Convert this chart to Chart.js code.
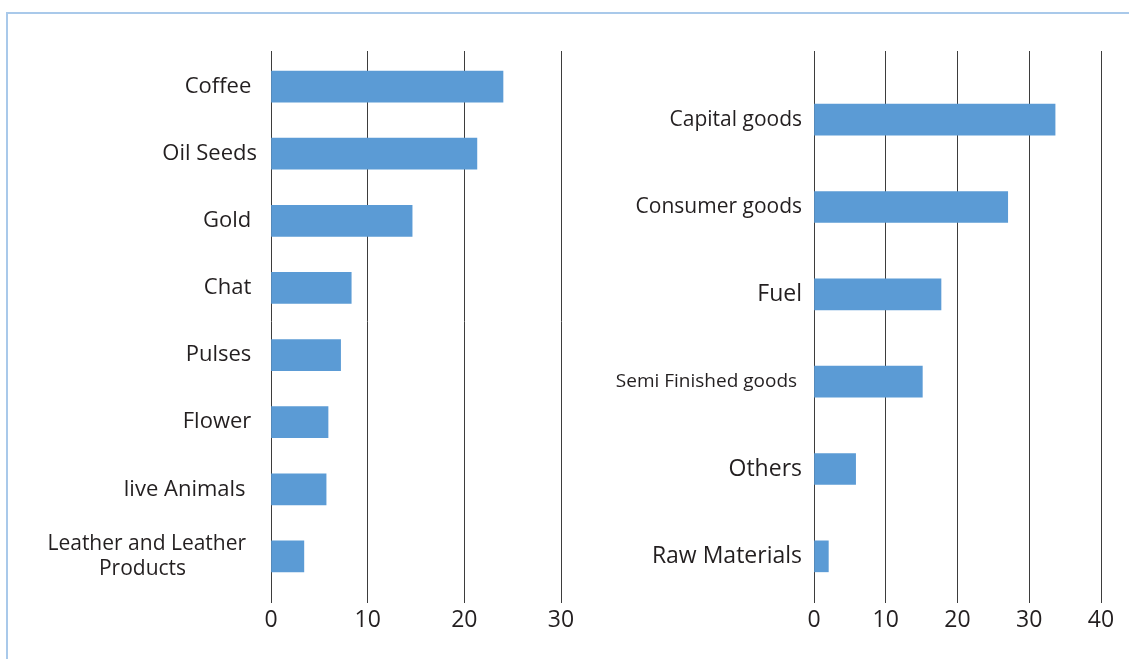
<!DOCTYPE html>
<html>
<head>
<meta charset="utf-8">
<script src="https://cdn.jsdelivr.net/npm/chart.js@4.4.1/dist/chart.umd.min.js"></script>
<style>
    html, body { margin: 0; padding: 0; background: #fff; overflow: hidden; }
    .frame {
        position: absolute; left: 6px; top: 12px; right: -10px; bottom: -10px;
        border-top: 2px solid #a9c9ea; border-left: 2px solid #a9c9ea;
    }
    .panel { position: absolute; top: 0; height: 659px; }
    #wrap-exports { left: 0; width: 600px; }
    #wrap-imports { left: 580px; width: 549px; }
</style>
</head>
<body>
<div class="frame"></div>
<div class="panel" id="wrap-exports"><canvas id="chart-exports"></canvas></div>
<div class="panel" id="wrap-imports"><canvas id="chart-imports"></canvas></div>
<script>
// Export commodities (left panel)
const exportLabels = [
    'Coffee ', 'Oil Seeds', 'Gold ', 'Chat ', 'Pulses ', 'Flower ', 'live Animals  ',
    ['Leather and Leather  ', 'Products             ']
];
const exportValues = [24, 21.3, 14.6, 8.3, 7.2, 5.9, 5.7, 3.4];

// Import groups (right panel)
const importLabels = ['Capital goods', 'Consumer goods', 'Fuel', 'Semi Finished goods ', 'Others', 'Raw Materials'];
const importValues = [33.6, 27, 17.7, 15.1, 5.8, 2.0];

const exportMax = 30;
const importMax = 40;
const tickStep = 10;

const BAR_COLOR = '#5b9bd5';
const GRID_COLOR = '#3d3d3d';
const TEXT_COLOR = '#231f20';
const FONT = "'Open Sans', sans-serif";

function renderBarPanel(canvasId, labels, values, opts) {
    const ctx = document.getElementById(canvasId);
    if (!ctx) return null;

    return new Chart(ctx, {
        type: 'bar',
        data: {
            labels: labels,
            datasets: [{
                data: values,
                backgroundColor: BAR_COLOR,
                barThickness: 31
            }]
        },
        options: {
            indexAxis: 'y',
            responsive: true,
            maintainAspectRatio: false,
            animation: false,
            layout: { padding: opts.padding },
            plugins: {
                legend: { display: false },
                tooltip: { enabled: false }
            },
            scales: {
                y: {
                    grid: { display: false },
                    border: { display: false },
                    afterFit: scale => { scale.width = opts.axisWidth; },
                    ticks: {
                        color: TEXT_COLOR,
                        padding: opts.labelPad,
                        font: c => ({ family: FONT, size: opts.labelSizes[c.index] || 22 })
                    }
                },
                x: {
                    min: 0,
                    max: opts.max,
                    afterFit: scale => { scale.height = opts.xHeight; },
                    border: { display: false },
                    grid: {
                        color: GRID_COLOR,
                        lineWidth: 1,
                        tickLength: opts.bottomExt
                    },
                    ticks: {
                        stepSize: tickStep,
                        color: TEXT_COLOR,
                        padding: 4,
                        font: { family: FONT, size: 23 }
                    }
                },
                // grid lines run a little above the first bar band
                xTop: {
                    position: 'top',
                    min: 0,
                    max: opts.max,
                    border: { display: false },
                    grid: {
                        color: GRID_COLOR,
                        lineWidth: 1,
                        drawOnChartArea: false,
                        tickLength: opts.topExt
                    },
                    ticks: { display: false, stepSize: tickStep }
                }
            }
        }
    });
}

renderBarPanel('chart-exports', exportLabels, exportValues, {
    max: exportMax,
    axisWidth: 271,
    labelPad: 6,
    labelSizes: [22, 22, 22, 22, 22, 22, 22, 21],
    padding: { top: 51, right: 39, bottom: 9, left: 0 },
    xHeight: 60,
    topExt: 2,
    bottomExt: 13
});

renderBarPanel('chart-imports', importLabels, importValues, {
    max: importMax,
    axisWidth: 234,
    labelPad: 4,
    labelSizes: [21, 21, 23, 19, 23, 23],
    padding: { top: 51, right: 28, bottom: 0, left: 0 },
    xHeight: 59,
    topExt: 25,
    bottomExt: 3
});
</script>
</body>
</html>
